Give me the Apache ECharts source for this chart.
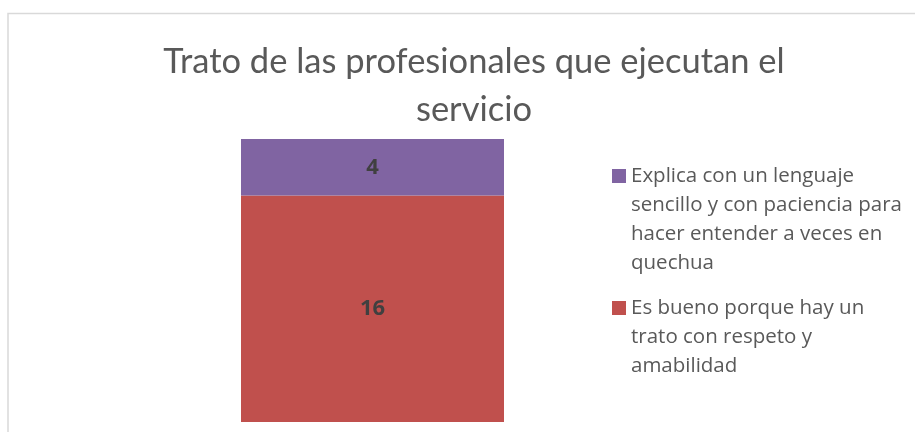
<!DOCTYPE html>
<html>
<head>
<meta charset="utf-8">
<script src="https://cdn.jsdelivr.net/npm/echarts@6/dist/echarts.min.js"></script>
<style>
  html, body { margin: 0; padding: 0; background: #fff; }
  #chart { width: 915px; height: 432px; }
</style>
</head>
<body>
<div id="chart"></div>
<script>
// datos del gráfico
const categories = ["Trato"];
const seriesNames = [
  "Es bueno porque hay un trato con respeto y amabilidad",
  "Explica con un lenguaje sencillo y con paciencia para hacer entender a veces en quechua"
];
const seriesValues = [[16], [4]];
const seriesColors = ["#C0504D", "#8064A2"];
// líneas de la leyenda tal como aparecen en la imagen
const legendLines = {
  [seriesNames[1]]: ["Explica con un lenguaje", "sencillo y con paciencia para", "hacer entender a veces en", "quechua"],
  [seriesNames[0]]: ["Es bueno porque hay un", "trato con respeto y", "amabilidad"]
};
const titleText = "Trato de las profesionales que ejecutan el\nservicio";

const LINE_H = 29;
const ITEM_H = 116;

// icono cuadrado alineado con la primera línea del texto
const iconFor = (lines) => {
  const textTop = (ITEM_H - lines * LINE_H) / 2;
  const y0 = textTop + LINE_H / 2 - 7;
  return "path://M0,0M0," + y0 + "H14V" + (y0 + 14) + "H0ZM14," + ITEM_H;
};

const chart = echarts.init(document.getElementById("chart"));

const option = {
  animation: false,
  backgroundColor: "#fff",
  graphic: [
    {
      type: "rect",
      silent: true,
      z: -10,
      shape: { x: 8, y: 13.5, width: 1000, height: 1000 },
      style: { fill: "none", stroke: "#d9d9d9", lineWidth: 1.5 }
    }
  ],
  title: {
    text: titleText,
    left: 474,
    top: 38,
    textAlign: "center",
    padding: 0,
    textStyle: {
      fontFamily: "Lato",
      fontWeight: "normal",
      fontSize: 34.5,
      lineHeight: 48,
      color: "#595959"
    }
  },
  legend: {
    orient: "vertical",
    left: 612,
    top: 161.5,
    padding: 0,
    itemGap: 1.5,
    itemWidth: 14,
    itemHeight: ITEM_H,
    selectedMode: false,
    data: [seriesNames[1], seriesNames[0]].map((n) => ({
      name: n,
      icon: iconFor(legendLines[n].length)
    })),
    formatter: (name) => legendLines[name].join("\n"),
    textStyle: {
      fontFamily: "Open Sans",
      fontSize: 20.5,
      lineHeight: LINE_H,
      color: "#595959"
    }
  },
  grid: { left: 241, right: 411, top: 139, bottom: 10 },
  xAxis: { type: "category", data: categories, show: false },
  yAxis: { type: "value", min: 0, max: 20, show: false },
  series: seriesNames.map((name, i) => ({
    name: name,
    type: "bar",
    stack: "total",
    barCategoryGap: "0%",
    data: seriesValues[i],
    itemStyle: { color: seriesColors[i] },
    label: {
      show: true,
      position: "inside",
      fontFamily: "Open Sans",
      fontWeight: "bold",
      fontSize: 22,
      color: "#404040"
    }
  }))
};

chart.setOption(option);
</script>
</body>
</html>
